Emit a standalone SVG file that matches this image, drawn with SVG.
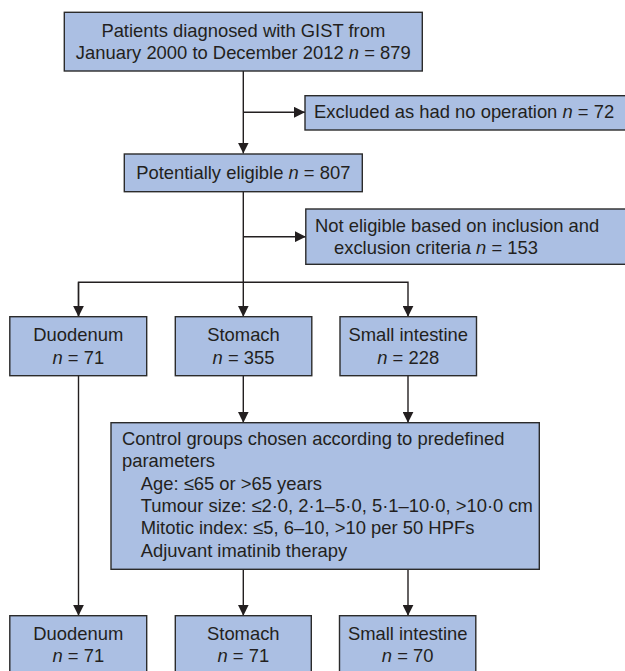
<svg xmlns="http://www.w3.org/2000/svg" width="625" height="671" viewBox="0 0 625 671">
<defs>
<marker id="ah" markerWidth="11" markerHeight="11" viewBox="0 0 11 11" refX="11" refY="5.5" orient="auto" markerUnits="userSpaceOnUse">
<path d="M0,0 L11,5.5 L0,11 Z" fill="#231f20"/>
</marker>
<style>
.box{fill:#abbfe3;stroke:#2b2b2b;stroke-width:1.4}
.t{font-family:"Liberation Sans",Arial,Helvetica,sans-serif;font-size:18.4px;fill:#231f20}
.c{text-anchor:middle}
.ln{fill:none;stroke:#231f20;stroke-width:1.4}
</style>
</defs>
<rect width="625" height="671" fill="#ffffff"/>
<g id="connectors">
<path class="ln" d="M243.3,71 V153.5" marker-end="url(#ah)"/>
<path class="ln" d="M243.3,112.3 H305" marker-end="url(#ah)"/>
<path class="ln" d="M243.3,191.7 V316.7" marker-end="url(#ah)"/>
<path class="ln" d="M243.3,236.7 H305.8" marker-end="url(#ah)"/>
<path class="ln" d="M78.5,316.7 V282.3 H408 V316.7" marker-end="url(#ah)"/>
<path class="ln" d="M78.5,282.3 V316.7" marker-end="url(#ah)"/>
<path class="ln" d="M243.3,375.7 V422.7" marker-end="url(#ah)"/>
<path class="ln" d="M408,375.7 V422.7" marker-end="url(#ah)"/>
<path class="ln" d="M243.3,569.3 V615.7" marker-end="url(#ah)"/>
<path class="ln" d="M408,569.3 V615.7" marker-end="url(#ah)"/>
<path class="ln" d="M78.5,375.7 V615.7" marker-end="url(#ah)"/>
</g>
<g id="n_total">
<rect class="box" x="64.3" y="12.3" width="358" height="58.7"/>
<text class="t c" x="243.3" y="36.7">Patients diagnosed with GIST from</text>
<text class="t c" x="243.3" y="59.3">January 2000 to December 2012 <tspan font-style="italic">n</tspan> = 879</text>
</g>
<g id="n_excluded">
<rect class="box" x="305" y="95.7" width="325" height="34.3"/>
<text class="t" x="314" y="118.3">Excluded as had no operation <tspan font-style="italic">n</tspan> = 72</text>
</g>
<g id="n_potential">
<rect class="box" x="124.3" y="154" width="238" height="37.7"/>
<text class="t c" x="243.3" y="179">Potentially eligible <tspan font-style="italic">n</tspan> = 807</text>
</g>
<g id="n_noteligible">
<rect class="box" x="305.8" y="209" width="325" height="55.3"/>
<text class="t" x="315" y="231.7">Not eligible based on inclusion and</text>
<text class="t" x="334" y="254">exclusion criteria <tspan font-style="italic">n</tspan> = 153</text>
</g>
<g id="n_duo1">
<rect class="box" x="9.8" y="316.7" width="136.9" height="59"/>
<text class="t c" x="78.3" y="341.3">Duodenum</text>
<text class="t c" x="78.3" y="363.5"><tspan font-style="italic">n</tspan> = 71</text>
</g>
<g id="n_sto1">
<rect class="box" x="175.3" y="316.7" width="136.5" height="59"/>
<text class="t c" x="243.5" y="341.3">Stomach</text>
<text class="t c" x="243.5" y="363.5"><tspan font-style="italic">n</tspan> = 355</text>
</g>
<g id="n_si1">
<rect class="box" x="340" y="316.7" width="136.5" height="59"/>
<text class="t c" x="408.2" y="341.3">Small intestine</text>
<text class="t c" x="408.2" y="363.5"><tspan font-style="italic">n</tspan> = 228</text>
</g>
<g id="n_control">
<rect class="box" x="111" y="422.7" width="428.3" height="146.6"/>
<text class="t" x="122" y="445">Control groups chosen according to predefined</text>
<text class="t" x="122" y="467.3">parameters</text>
<text class="t" x="140.7" y="489.7">Age: ≤65 or &gt;65 years</text>
<text class="t" x="140.7" y="512">Tumour size: ≤2·0, 2·1–5·0, 5·1–10·0, &gt;10·0 cm</text>
<text class="t" x="140.7" y="534.3">Mitotic index: ≤5, 6–10, &gt;10 per 50 HPFs</text>
<text class="t" x="140.7" y="556.7">Adjuvant imatinib therapy</text>
</g>
<g id="n_duo2">
<rect class="box" x="9.8" y="615.7" width="136.9" height="60"/>
<text class="t c" x="78.3" y="639.5">Duodenum</text>
<text class="t c" x="78.3" y="662"><tspan font-style="italic">n</tspan> = 71</text>
</g>
<g id="n_sto2">
<rect class="box" x="175.3" y="615.7" width="136" height="60"/>
<text class="t c" x="243.3" y="639.5">Stomach</text>
<text class="t c" x="243.3" y="662"><tspan font-style="italic">n</tspan> = 71</text>
</g>
<g id="n_si2">
<rect class="box" x="339.5" y="615.7" width="136.3" height="60"/>
<text class="t c" x="407.7" y="639.5">Small intestine</text>
<text class="t c" x="407.7" y="662"><tspan font-style="italic">n</tspan> = 70</text>
</g>
</svg>
